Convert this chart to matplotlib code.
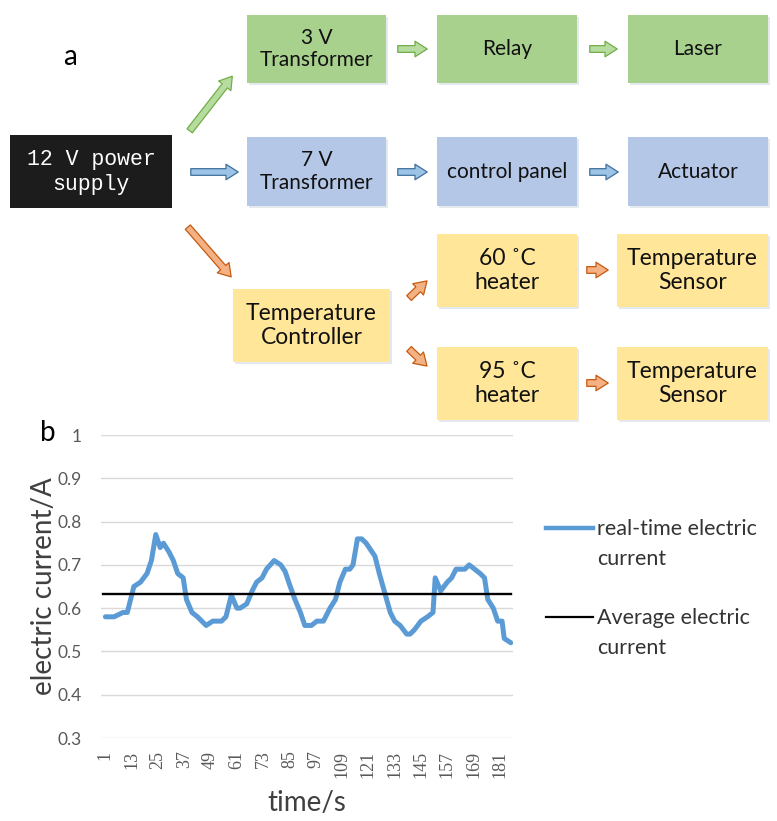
import matplotlib
matplotlib.use("Agg")
import matplotlib.pyplot as plt
from matplotlib.patches import Rectangle, FancyArrowPatch
from matplotlib.lines import Line2D

# ---- line chart data ----
time_s = [1, 5, 9, 11, 14, 17, 20, 22, 24, 26, 27.5, 30, 32, 34, 36.5, 38, 40.5, 43, 45, 47,
          50, 54, 56, 58.5, 61, 62.5, 65.5, 68, 70, 72.5, 74.5, 78, 81, 83, 85, 87.5, 90, 92,
          95, 97.5, 100.5, 103.5, 106, 108, 110.5, 112.5, 114, 116, 118, 120, 124, 126, 128.5,
          131, 133, 135.5, 138.5, 140, 142, 145, 148, 150.5, 151.5, 154, 157, 159, 161, 165,
          167, 169.5, 172, 174, 175.5, 178, 180, 182, 183, 186]
current_a = [0.58, 0.58, 0.59, 0.59, 0.65, 0.66, 0.68, 0.71, 0.77, 0.74, 0.75, 0.73, 0.71,
             0.68, 0.67, 0.62, 0.59, 0.58, 0.57, 0.56, 0.57, 0.57, 0.58, 0.63, 0.60, 0.60,
             0.61, 0.64, 0.66, 0.67, 0.69, 0.71, 0.70, 0.685, 0.655, 0.62, 0.59, 0.56, 0.56,
             0.57, 0.57, 0.60, 0.62, 0.66, 0.69, 0.69, 0.70, 0.76, 0.76, 0.75, 0.72, 0.68,
             0.635, 0.59, 0.57, 0.56, 0.54, 0.54, 0.55, 0.57, 0.58, 0.59, 0.67, 0.64, 0.66,
             0.67, 0.69, 0.69, 0.70, 0.69, 0.68, 0.67, 0.62, 0.60, 0.57, 0.57, 0.53, 0.52]
average_a = 0.632
x_ticks = list(range(1, 182, 12))
y_ticks = [0.3, 0.4, 0.5, 0.6, 0.7, 0.8, 0.9, 1.0]
y_tick_labels = ["0.3", "0.4", "0.5", "0.6", "0.7", "0.8", "0.9", "1"]
legend_labels = ["real-time electric\ncurrent", "Average electric\ncurrent"]

# ---- block diagram content ----
box_labels = ["3 V\nTransformer", "Relay", "Laser",
              "7 V\nTransformer", "control panel", "Actuator",
              "Temperature\nController", "60 \u02daC\nheater", "Temperature\nSensor",
              "95 \u02daC\nheater", "Temperature\nSensor"]
box_colors = ["#a9d18e"] * 3 + ["#b4c7e7"] * 3 + ["#ffe699"] * 5
# (x0, y0, x1, y1) in pixels, top-left origin
box_layout = [(247, 15, 386, 83), (437, 15, 577, 83), (628, 15, 768, 83),
              (247, 137, 386, 206), (437, 137, 577, 206), (628, 137, 768, 206),
              (233, 289, 390, 362), (437, 234, 577, 307), (617, 234, 768, 307),
              (437, 347, 577, 420), (617, 347, 768, 420)]
box_fontsize = [15, 15, 15, 15, 15, 15, 16.5, 16.5, 16.5, 16.5, 16.5]

arrow_colors = {"green": ("#b7dca0", "#70ad47"),
                "blue": ("#9dc3e6", "#41719c"),
                "orange": ("#f4b183", "#c55a11")}
arrows = [("green", (188, 133), (234, 74)), ("green", (395, 49), (430, 49)),
          ("green", (587, 49), (620, 49)),
          ("blue", (188, 172), (241, 172)), ("blue", (395, 172), (430, 172)),
          ("blue", (587, 172), (621, 172)),
          ("orange", (186, 225), (233, 279)), ("orange", (407, 300), (429, 279)),
          ("orange", (407, 347), (429, 368)), ("orange", (584, 270), (611, 270)),
          ("orange", (584, 383), (611, 383))]

plt.rcParams["font.family"] = ["Lato", "DejaVu Sans"]

W, H = 777, 821
fig = plt.figure(figsize=(W / 100, H / 100), dpi=100)

# diagram canvas in pixel coordinates
ax0 = fig.add_axes([0, 0, 1, 1])
ax0.set_xlim(0, W)
ax0.set_ylim(H, 0)
ax0.axis("off")

ax0.add_patch(Rectangle((10, 135), 162, 73, facecolor="#1c1c1c", edgecolor="none"))
ax0.text(91, 172, "12 V power\nsupply", color="white", ha="center", va="center",
         fontsize=15.5, family="Liberation Mono", linespacing=1.25)

for label, col, (x0, y0, x1, y1), fs in zip(box_labels, box_colors, box_layout, box_fontsize):
    ax0.add_patch(Rectangle((x0 + 2, y0 + 2), x1 - x0, y1 - y0, facecolor="#e4e8ef",
                            edgecolor="none"))
    ax0.add_patch(Rectangle((x0, y0), x1 - x0, y1 - y0, facecolor=col, edgecolor="none"))
    ax0.text((x0 + x1) / 2, (y0 + y1) / 2, label, ha="center", va="center",
             fontsize=fs, color="#111111", linespacing=1.15)

for name, start, end in arrows:
    fc, ec = arrow_colors[name]
    ax0.add_patch(FancyArrowPatch(start, end,
                                  arrowstyle="simple,head_length=0.55,head_width=0.7,tail_width=0.3",
                                  mutation_scale=16, facecolor=fc, edgecolor=ec, lw=0.9))

ax0.text(70, 57, "a", fontsize=20, ha="center", va="center")
ax0.text(48, 433, "b", fontsize=20, ha="center", va="center")

# line chart
ax = fig.add_axes([101 / W, 1 - 738 / H, (513 - 101) / W, (738 - 435) / H])
ax.plot(time_s, current_a, color="#5b9bd5", lw=3.6, solid_joinstyle="round",
        solid_capstyle="round")
ax.axhline(average_a, xmin=0.005, xmax=0.995, color="black", lw=1.7)
ax.set_xlim(-1, 187)
ax.set_ylim(0.3, 1.0)
ax.set_yticks(y_ticks)
ax.set_yticklabels(y_tick_labels)
ax.set_xticks(x_ticks)
ax.set_xticklabels([str(t) for t in x_ticks], rotation=90, family="Liberation Serif",
                   fontsize=13)
ax.tick_params(axis="y", length=0, labelsize=12.5, colors="#595959", pad=14)
ax.tick_params(axis="x", length=0, colors="#595959", pad=9)
ax.grid(axis="y", color="#d9d9d9", lw=1)
ax.set_axisbelow(True)
for s in ax.spines.values():
    s.set_visible(False)
ax.set_ylabel("electric current/A", fontsize=20, color="#404040", labelpad=0)
ax.set_xlabel("time/s", fontsize=20, color="#404040", labelpad=9)

# legend drawn on the pixel canvas (handle aligned with first text line)
legend_styles = [("#5b9bd5", 3.2, 528), ("black", 1.6, 617)]
for label, (col, lw, y) in zip(legend_labels, legend_styles):
    ax0.add_line(Line2D([546, 593], [y, y], color=col, lw=lw))
    ax0.text(597, y - 9, label, fontsize=15.5, color="#333333", va="top", ha="left",
             linespacing=1.62)

fig.savefig("out.png", dpi=100)
